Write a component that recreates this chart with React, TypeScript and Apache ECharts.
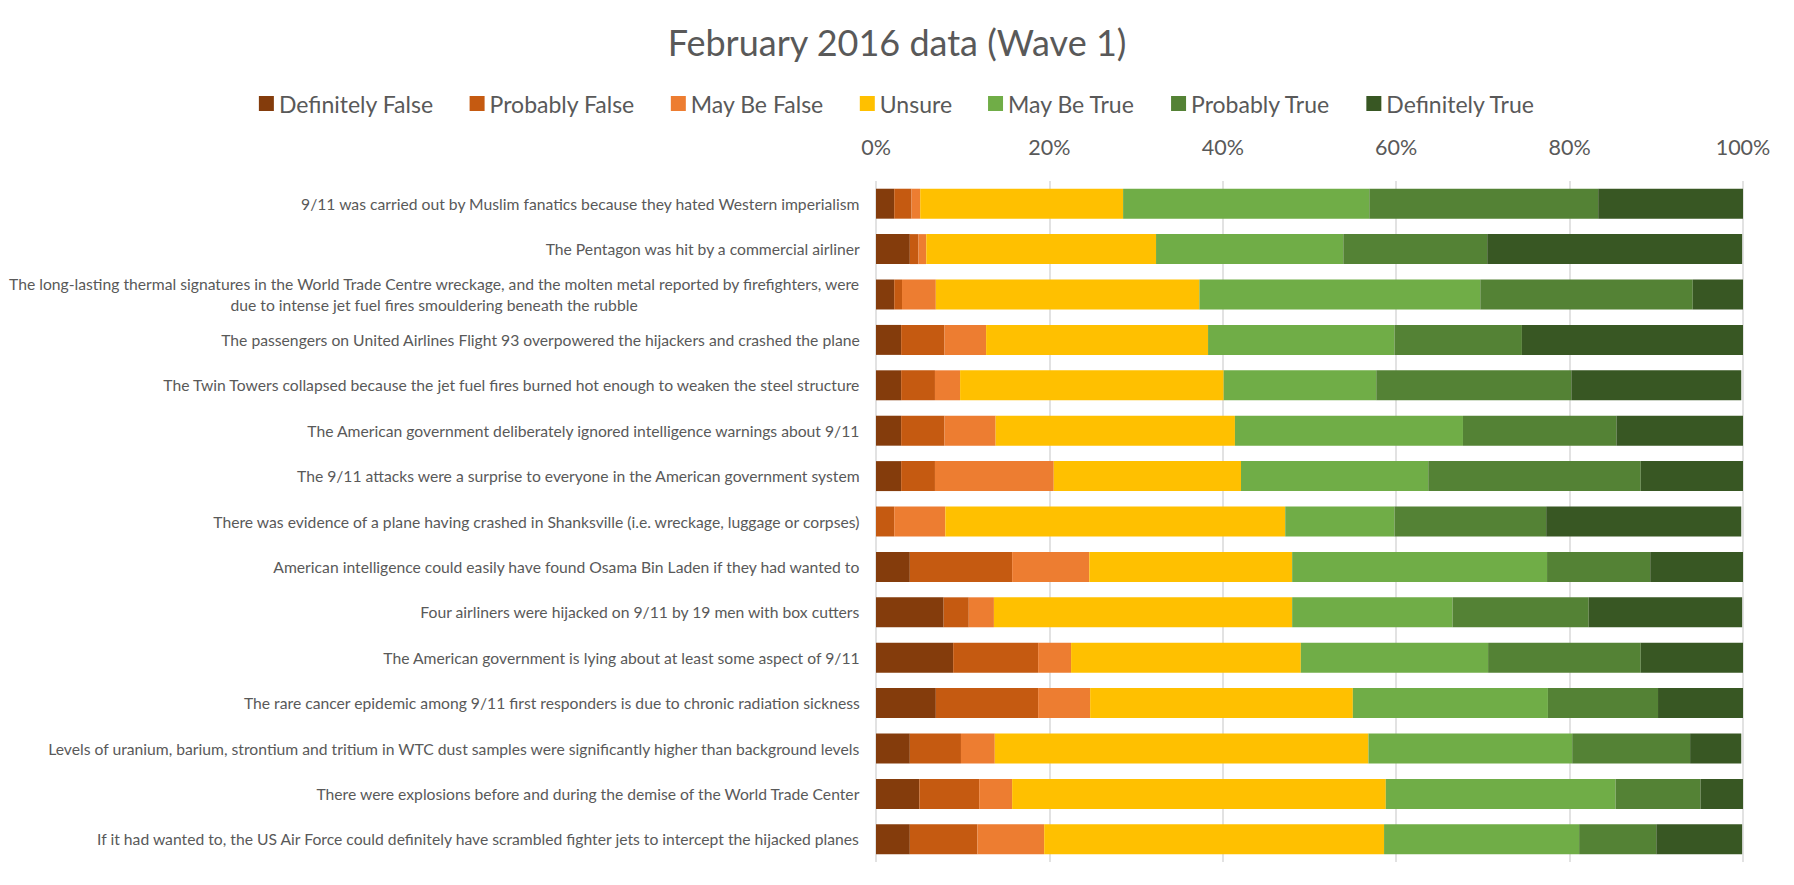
import React, { useEffect, useRef } from "react";
import * as echarts from "echarts";

const categories: string[] = [
  "9/11 was carried out by Muslim fanatics because they hated Western imperialism",
  "The Pentagon was hit by a commercial airliner",
  "The long-lasting thermal signatures in the World Trade Centre wreckage, and the molten metal reported by firefighters, were\ndue to intense jet fuel fires smouldering beneath the rubble",
  "The passengers on United Airlines Flight 93 overpowered the hijackers and crashed the plane",
  "The Twin Towers collapsed because the jet fuel fires burned hot enough to weaken the steel structure",
  "The American government deliberately ignored intelligence warnings about 9/11",
  "The 9/11 attacks were a surprise to everyone in the American government system",
  "There was evidence of a plane having crashed in Shanksville (i.e. wreckage, luggage or corpses)",
  "American intelligence could easily have found Osama Bin Laden if they had wanted to",
  "Four airliners were hijacked on 9/11 by 19 men with box cutters",
  "The American government is lying about at least some aspect of 9/11",
  "The rare cancer epidemic among 9/11 first responders is due to chronic radiation sickness",
  "Levels of uranium, barium, strontium and tritium in WTC dust samples were significantly higher than background levels",
  "There were explosions before and during the demise of the World Trade Center",
  "If it had wanted to, the US Air Force could definitely have scrambled fighter jets to intercept the hijacked planes",
];

const seriesNames: string[] = [
  "Definitely False",
  "Probably False",
  "May Be False",
  "Unsure",
  "May Be True",
  "Probably True",
  "Definitely True",
];

const definitelyFalse: number[] = [2.1, 3.9, 2.1, 2.9, 2.9, 2.9, 2.9, 0, 3.9, 7.8, 8.9, 6.9, 3.9, 5.0, 3.9];
const probablyFalse: number[] = [2.0, 1.0, 0.9, 5.0, 3.9, 5.0, 3.9, 2.1, 11.8, 2.9, 9.8, 11.8, 5.9, 6.9, 7.8];
const mayBeFalse: number[] = [1.0, 0.9, 3.9, 4.8, 2.9, 5.9, 13.7, 5.9, 8.9, 2.9, 3.8, 6.0, 3.9, 3.8, 7.7];
const unsure: number[] = [23.4, 26.5, 30.4, 25.6, 30.4, 27.6, 21.6, 39.2, 23.4, 34.4, 26.5, 30.3, 43.1, 43.1, 39.2];
const mayBeTrue: number[] = [28.4, 21.6, 32.4, 21.5, 17.6, 26.3, 21.6, 12.6, 29.4, 18.5, 21.6, 22.5, 23.5, 26.5, 22.5];
const probablyTrue: number[] = [26.4, 16.6, 24.5, 14.7, 22.5, 17.7, 24.5, 17.5, 11.9, 15.7, 17.6, 12.7, 13.6, 9.8, 8.9];
const definitelyTrue: number[] = [16.7, 29.4, 5.8, 25.5, 19.6, 14.7, 11.8, 22.5, 10.8, 17.7, 11.8, 9.8, 5.9, 4.9, 9.9];

const seriesValues: number[][] = [
  definitelyFalse,
  probablyFalse,
  mayBeFalse,
  unsure,
  mayBeTrue,
  probablyTrue,
  definitelyTrue,
];

const colors: string[] = ["#843C0C", "#C55A11", "#ED7D31", "#FFC000", "#70AD47", "#548235", "#385723"];

const FONT = "Lato";
const TEXT = "#595959";

export default function App() {
  const ref = useRef<HTMLDivElement>(null);

  useEffect(() => {
    document.body.style.margin = "0";
    if (!ref.current) return;
    const chart = echarts.init(ref.current, null, { renderer: "svg" });
    chart.setOption({
      animation: false,
      color: colors,
      textStyle: { fontFamily: FONT, color: TEXT },
      title: {
        text: "February 2016 data (Wave 1)",
        left: "center",
        top: 19,
        textStyle: { fontFamily: FONT, fontSize: 36, fontWeight: "normal", color: TEXT },
      },
      legend: {
        top: 87,
        left: "center",
        itemWidth: 15,
        itemHeight: 15,
        itemGap: 36,
        icon: "rect",
        textStyle: { fontFamily: FONT, fontSize: 23, color: TEXT },
        data: seriesNames,
      },
      grid: { left: 876, right: 51, top: 181, bottom: 23, containLabel: false },
      xAxis: {
        type: "value",
        position: "top",
        min: 0,
        max: 100,
        interval: 20,
        axisLabel: {
          formatter: "{value}%",
          fontFamily: FONT,
          fontSize: 21.5,
          color: TEXT,
          margin: 23,
        },
        axisLine: { show: false },
        axisTick: { show: false },
        splitLine: { show: true, lineStyle: { color: "#D9D9D9", width: 1.5 } },
      },
      yAxis: {
        type: "category",
        inverse: true,
        data: categories,
        axisLine: { show: false },
        axisTick: { show: false },
        axisLabel: {
          fontFamily: FONT,
          fontSize: 15.7,
          color: TEXT,
          margin: 16,
          lineHeight: 21,
          formatter: (v: string) =>
            v
              .split("\n")
              .map((l) => "{c|" + l + "}")
              .join("\n"),
          rich: {
            c: { align: "center", fontFamily: FONT, fontSize: 15.7, color: TEXT, lineHeight: 21 },
          },
        },
      },
      series: seriesNames.map((name, i) => ({
        name,
        type: "bar",
        stack: "total",
        barCategoryGap: "34%",
        data: seriesValues[i],
        itemStyle: { color: colors[i] },
      })),
    });
    return () => chart.dispose();
  }, []);

  return <div ref={ref} style={{ width: 1794, height: 885 }} />;
}
